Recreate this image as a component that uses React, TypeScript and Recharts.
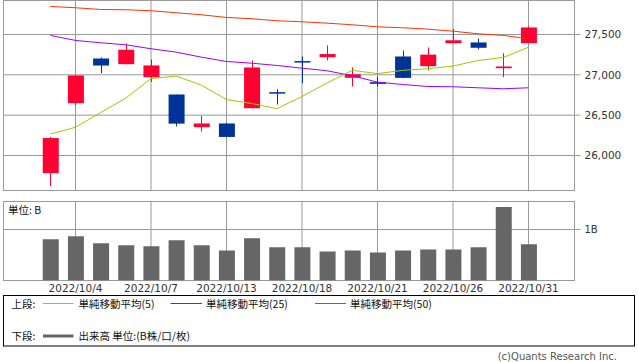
import React from 'react';
import {
  ComposedChart,
  Bar,
  Line,
  XAxis,
  YAxis,
  CartesianGrid,
  ReferenceArea,
} from 'recharts';

// ---- data ----
const dates = [
  '2022/10/3', '2022/10/4', '2022/10/5', '2022/10/6', '2022/10/7',
  '2022/10/11', '2022/10/12', '2022/10/13', '2022/10/14', '2022/10/17',
  '2022/10/18', '2022/10/19', '2022/10/20', '2022/10/21', '2022/10/24',
  '2022/10/25', '2022/10/26', '2022/10/27', '2022/10/28', '2022/10/31',
];
const opens = [25781, 26648, 27202, 27132, 26971, 26756, 26351, 26397, 26586, 26785, 27170, 27219, 26963, 26909, 27227, 27107, 27392, 27401, 27082, 27392];
const closes = [26216, 26992, 27115, 27311, 27116, 26395, 26397, 26230, 27091, 26770, 27152, 27257, 27006, 26888, 26962, 27250, 27428, 27335, 27103, 27587];
const highs = [26230, 26995, 27215, 27388, 27190, 26756, 26492, 26405, 27178, 26822, 27227, 27364, 27091, 26976, 27302, 27339, 27570, 27450, 27268, 27599];
const lows = [25619, 26624, 27020, 27132, 26914, 26360, 26297, 26225, 26586, 26632, 26896, 27178, 26855, 26855, 26958, 27054, 27392, 27314, 26971, 27392];
const ma5 = [26266, 26350, 26532, 26712, 26953, 26985, 26872, 26693, 26645, 26580, 26731, 26900, 27055, 27015, 27055, 27075, 27108, 27178, 27215, 27342];
const ma25 = [27488, 27426, 27397, 27372, 27323, 27281, 27219, 27165, 27144, 27116, 27082, 27050, 26988, 26909, 26880, 26855, 26852, 26839, 26827, 26839];
const ma50 = [27847, 27831, 27810, 27806, 27794, 27769, 27744, 27711, 27695, 27670, 27657, 27640, 27620, 27595, 27583, 27566, 27541, 27508, 27488, 27447];
const volumes = [0.81, 0.87, 0.73, 0.69, 0.67, 0.79, 0.69, 0.59, 0.83, 0.65, 0.65, 0.57, 0.59, 0.55, 0.59, 0.61, 0.61, 0.65, 1.44, 0.71];
const dateTickIndex = [1, 4, 7, 10, 13, 16, 19];
const priceTicks = [26000, 26500, 27000, 27500];
const volumeTicks = [1];

const data = dates.map((d, i) => ({
  i,
  date: d,
  open: opens[i],
  close: closes[i],
  high: highs[i],
  low: lows[i],
  ma5: ma5[i],
  ma25: ma25[i],
  ma50: ma50[i],
  vol: volumes[i],
}));

// ---- style ----
const RED = '#ff0033';
const BLUE = '#003399';
const GRID = '#999999';
const X_DOMAIN: [number, number] = [-1.861, 20.828];
const P_DOMAIN: [number, number] = [25566, 27921];
const V_DOMAIN: [number, number] = [0, 1.549];
const NUM_FONT = 'DejaVu Sans';
const JP_FONT = '"Noto Sans CJK JP", sans-serif';

const Candle = (props: any) => {
  const { x, y, width, height, payload } = props;
  if (x == null || y == null) return null;
  const { open, close, high, low } = payload;
  const color = close >= open ? RED : BLUE;
  const top = Math.min(y, y + height);
  const h = Math.abs(height);
  const k = high === low ? 0 : h / (high - low);
  const yOf = (v: number) => top + (high - v) * k;
  const bTop = yOf(Math.max(open, close));
  const bBot = yOf(Math.min(open, close));
  const cx = Math.floor(x + width / 2) + 0.5;
  return (
    <g>
      <line x1={cx} x2={cx} y1={top} y2={top + h} stroke={color} strokeWidth={1} />
      <rect x={x} y={bTop} width={width} height={Math.max(bBot - bTop, 1.5)} fill={color} />
    </g>
  );
};

const DateTick = (props: any) => {
  const { x, y, payload } = props;
  return (
    <text x={x} y={y + 11.5} textAnchor="middle" fontSize={10.5} fontFamily={NUM_FONT} fill="#333">
      {dates[payload.value]}
    </text>
  );
};

export default function App() {
  return (
    <div style={{ position: 'absolute', left: 0, top: 0, width: 638, height: 362, background: '#fff' }}>
      <div style={{ position: 'absolute', left: 0, top: 0 }}>
        <ComposedChart width={638} height={192} data={data} margin={{ top: 0.5, right: 3.5, bottom: 1.5, left: 3.5 }}>
          <XAxis dataKey="i" type="number" domain={X_DOMAIN} ticks={dateTickIndex} hide allowDataOverflow />
          <YAxis
            orientation="right"
            domain={P_DOMAIN}
            ticks={priceTicks}
            width={60}
            axisLine={false}
            tickLine={{ stroke: GRID }}
            tickSize={6}
            tickMargin={4}
            allowDataOverflow
            tick={{ fontSize: 10.5, fill: '#333', fontFamily: NUM_FONT }}
            tickFormatter={(v: number) => v.toLocaleString('en-US')}
          />
          <CartesianGrid stroke={GRID} />
          <ReferenceArea x1={X_DOMAIN[0]} x2={X_DOMAIN[1]} y1={P_DOMAIN[0]} y2={P_DOMAIN[1]} fill="none" fillOpacity={0} stroke={GRID} strokeWidth={1} ifOverflow="visible" />
          <Line dataKey="ma50" stroke="#ff3300" strokeWidth={1} dot={false} isAnimationActive={false} />
          <Line dataKey="ma25" stroke="#9900ff" strokeWidth={1} dot={false} isAnimationActive={false} />
          <Line dataKey="ma5" stroke="#99cc00" strokeWidth={1} dot={false} isAnimationActive={false} />
          <Bar dataKey={(d: any) => [d.low, d.high]} shape={Candle} barSize={16} isAnimationActive={false} />
        </ComposedChart>
      </div>
      <div style={{ position: 'absolute', left: 0, top: 201 }}>
        <ComposedChart width={638} height={100} data={data} margin={{ top: 0.5, right: 3.5, bottom: 0.5, left: 3.5 }}>
          <XAxis
            dataKey="i"
            type="number"
            domain={X_DOMAIN}
            ticks={dateTickIndex}
            allowDataOverflow
            height={20}
            axisLine={false}
            tickLine={false}
            tickSize={0}
            tickMargin={0}
            interval={0}
            tick={<DateTick />}
          />
          <YAxis
            orientation="right"
            domain={V_DOMAIN}
            ticks={volumeTicks}
            width={60}
            axisLine={false}
            tickLine={{ stroke: GRID }}
            tickSize={6}
            tickMargin={4}
            allowDataOverflow
            tick={{ fontSize: 10, fill: '#333', fontFamily: NUM_FONT }}
            tickFormatter={(v: number) => `${v}B`}
          />
          <CartesianGrid stroke={GRID} />
          <ReferenceArea x1={X_DOMAIN[0]} x2={X_DOMAIN[1]} y1={V_DOMAIN[0]} y2={V_DOMAIN[1]} fill="none" fillOpacity={0} stroke={GRID} strokeWidth={1} ifOverflow="visible" />
          <Bar dataKey="vol" fill="#666666" barSize={16} isAnimationActive={false} />
        </ComposedChart>
      </div>
      <svg width={638} height={362} style={{ position: 'absolute', left: 0, top: 0, pointerEvents: 'none' }}>
        <text x={8} y={214} fontSize={10.5} fontFamily={JP_FONT} fill="#111">単位: B</text>
        <rect x={3.5} y={295.5} width={631} height={50.5} fill="none" stroke="#000" strokeWidth={1} />
        <g fontSize={10.5} fontFamily={JP_FONT} fill="#111">
          <text x={11.5} y={307.5}>上段:</text>
          <line x1={43} x2={73.5} y1={303.5} y2={303.5} stroke="#99cc00" strokeWidth={1} />
          <text x={78.5} y={307.5}>単純移動平均(5)</text>
          <line x1={170.5} x2={202} y1={303.5} y2={303.5} stroke="#9900ff" strokeWidth={1} />
          <text x={206} y={307.5}>単純移動平均(25)</text>
          <line x1={315} x2={346} y1={303.5} y2={303.5} stroke="#ff3300" strokeWidth={1} />
          <text x={350} y={307.5}>単純移動平均(50)</text>
          <text x={11.5} y={339.5}>下段:</text>
          <line x1={43} x2={73.5} y1={336} y2={336} stroke="#666666" strokeWidth={3} />
          <text x={78.5} y={339.5}>出来高 単位:(B株/口/枚)</text>
        </g>
        <text x={617} y={360} textAnchor="end" fontSize={10} fontFamily={NUM_FONT} fill="#555">(c)Quants Research Inc.</text>
      </svg>
    </div>
  );
}
